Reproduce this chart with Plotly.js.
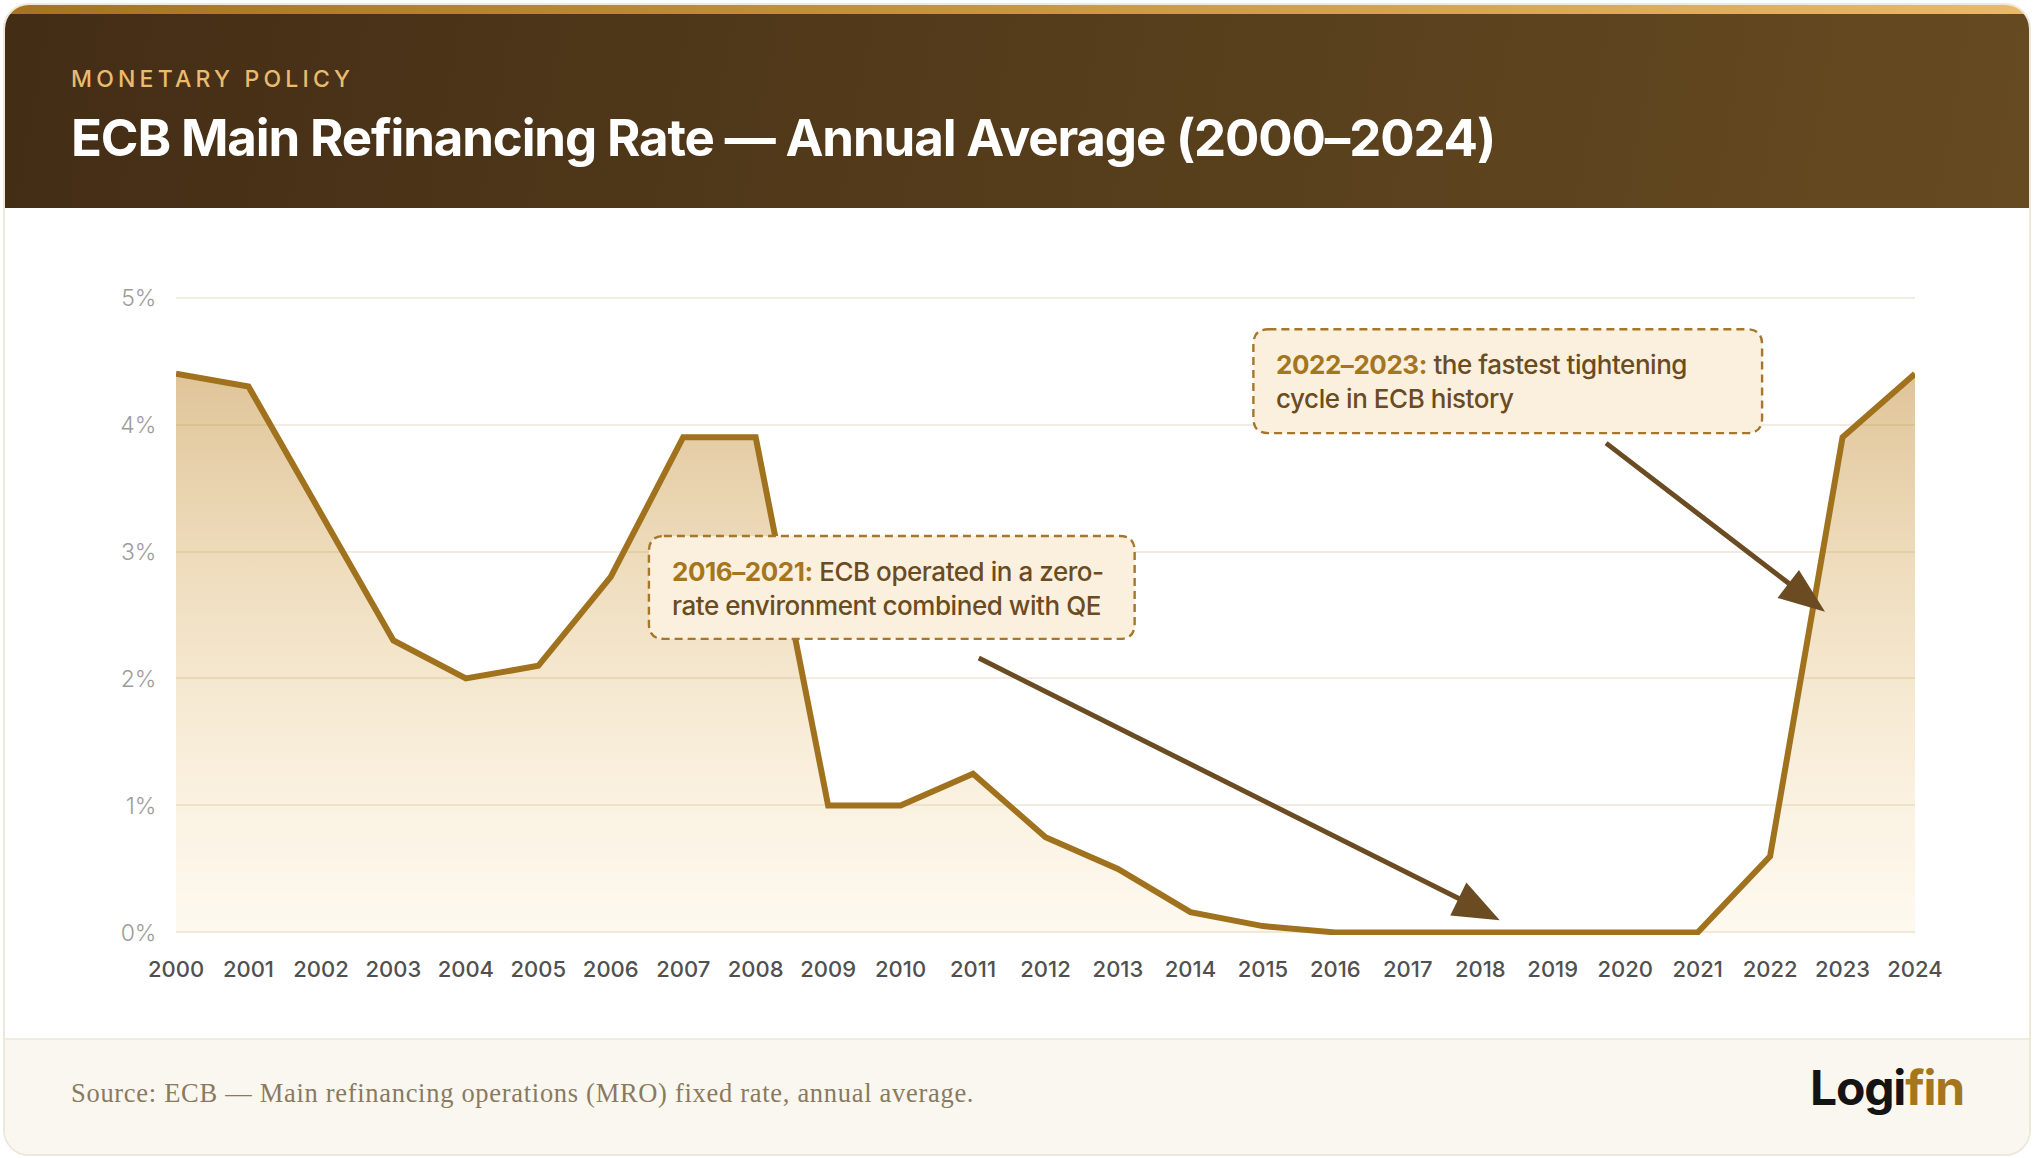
<!DOCTYPE html>
<html><head><meta charset="utf-8">
<script src="https://cdn.plot.ly/plotly-3.0.1.min.js"></script>
<style>
html,body{margin:0;padding:0;background:#fff;width:2033px;height:1158px;overflow:hidden}
#card{position:absolute;left:3px;top:3px;width:2024px;height:1149px;border:2px solid #eee8da;border-radius:26px;overflow:hidden;background:#fff}
#band{position:absolute;left:0;top:0;width:100%;height:9px;background:linear-gradient(90deg,#a5741f,#e9b96c)}
#head{position:absolute;left:0;top:9px;width:100%;height:194px;background:linear-gradient(100deg,#432d15,#664b21)}
#foot{position:absolute;left:0;top:1033px;width:100%;height:116px;background:#faf7f1;border-top:2px solid #f0ebe0;box-sizing:border-box}
#chart{position:absolute;left:0;top:0;width:2033px;height:1158px}
.annotation[data-index="0"] text{letter-spacing:4.2px}
.annotation[data-index="1"] text{letter-spacing:-1.15px}
.annotation[data-index="2"] text{letter-spacing:0.7px}
.annotation[data-index="3"] text,.annotation[data-index="4"] text{letter-spacing:-0.45px}
.annotation[data-index="5"] text{letter-spacing:-1.2px}
</style></head><body>
<div id="card"><div id="band"></div><div id="head"></div><div id="foot"></div></div>
<div id="chart"></div>
<script>
const years=[2000,2001,2002,2003,2004,2005,2006,2007,2008,2009,2010,2011,2012,2013,2014,2015,2016,2017,2018,2019,2020,2021,2022,2023,2024];
const rates=[4.4,4.3,3.3,2.3,2.0,2.1,2.8,3.9,3.9,1.0,1.0,1.25,0.75,0.5,0.16,0.05,0,0,0,0,0,0,0.6,3.9,4.4];
const yTicks=[0,1,2,3,4,5];
const yLabels=['0%','1%','2%','3%','4%','5%'];
const eyebrow='MONETARY POLICY';
const titleText='ECB Main Refinancing Rate — Annual Average (2000–2024)';
const sourceText='Source: ECB — Main refinancing operations (MRO) fixed rate, annual average.';

const W=2033,H=1158,L=175.5,R=1915.5,pad=0.02,unit=(932.9-297.2)/5,T=297.2-pad*unit,B=932.9+pad*unit;
const px=x=>(x-L)/(R-L), py=y=>(B-y)/(B-T);
function roundRect(x0,y0,x1,y1,r){
  return `M${px(x0+r)},${py(y0)}L${px(x1-r)},${py(y0)}Q${px(x1)},${py(y0)} ${px(x1)},${py(y0+r)}L${px(x1)},${py(y1-r)}Q${px(x1)},${py(y1)} ${px(x1-r)},${py(y1)}L${px(x0+r)},${py(y1)}Q${px(x0)},${py(y1)} ${px(x0)},${py(y1-r)}L${px(x0)},${py(y0+r)}Q${px(x0)},${py(y0)} ${px(x0+r)},${py(y0)}Z`;
}
const box=(x0,y0,x1,y1)=>({type:'path',xref:'paper',yref:'paper',layer:'above',path:roundRect(x0,y0,x1,y1,15),fillcolor:'#fbf0dd',line:{color:'#a6762a',width:2.4,dash:'8px,5px'}});
const head=(pts)=>({type:'path',xref:'paper',yref:'paper',layer:'above',fillcolor:'#6b4c22',line:{width:0},path:'M'+pts.map(p=>`${px(p[0])},${py(p[1])}`).join('L')+'Z'});
const label=(x,y,text,size,color,family,weight)=>({xref:'paper',yref:'paper',x:px(x),y:py(y),xanchor:'left',yanchor:'middle',align:'left',showarrow:false,text,font:{size,color,family,weight}});
const arrow=(x0,y0,x1,y1)=>({xref:'paper',yref:'paper',x:px(x1),y:py(y1),axref:'pixel',ayref:'pixel',ax:x0-x1,ay:y0-y1,text:'',showarrow:true,arrowhead:0,arrowwidth:5,arrowcolor:'#6b4c22',standoff:0,startstandoff:0});
const gold='#a6761e',ink='#6b4c22';
const layout={
  width:W,height:H,paper_bgcolor:'rgba(0,0,0,0)',plot_bgcolor:'rgba(0,0,0,0)',showlegend:false,
  margin:{l:L,r:W-R,t:T,b:H-B,pad:0},
  font:{family:'Inter'},
  xaxis:{range:[2000,2024],tickmode:'array',tickvals:years,ticktext:years.map(String),showgrid:false,zeroline:false,showline:false,
    ticks:'outside',ticklen:15,tickcolor:'rgba(0,0,0,0)',tickangle:0,tickfont:{size:22,color:'#505050',family:'Inter',weight:500}},
  yaxis:{range:[-pad,5+pad],tickmode:'array',tickvals:yTicks,ticktext:yLabels,showgrid:true,gridcolor:'#f1ecdf',gridwidth:2,zeroline:false,showline:false,
    ticks:'outside',ticklen:14,tickcolor:'rgba(0,0,0,0)',tickfont:{size:23,color:'#9c9c9c',family:'Inter',weight:300}},
  shapes:[box(648.7,536,1134.7,639),box(1253.5,329,1762.5,433),
    head([[1500,920.7],[1466.6,883],[1450.5,916]]),head([[1825.5,611.7],[1799.4,570],[1777.9,598]])],
  annotations:[
    label(68,78,eyebrow,23,'#e9bb6f','Inter',500),
    label(68,136.5,titleText,51,'#ffffff','Inter',700),
    label(68,1094,sourceText,26.5,'#8a7a60','Liberation Serif',400),
    label(669.5,589,`<b style="color:${gold}">2016–2021:</b> ECB operated in a zero-<br>rate environment combined with QE`,26,ink,'Inter',500),
    label(1274.5,381.5,`<b style="color:${gold}">2022–2023:</b> the fastest tightening<br>cycle in ECB history`,26,ink,'Inter',500),
    label(1808,1088,`<b><span style="color:#141414">Logi</span><span style="color:${gold}">fin</span></b>`,48,'#141414','Inter',700),
    arrow(977.5,657.7,1460,899.5),
    arrow(1605,442,1790,584)
  ]
};
const trace={x:years,y:rates,type:'scatter',mode:'lines',cliponaxis:false,hoverinfo:'skip',
  line:{color:'#a0721e',width:6,shape:'linear'},fill:'tozeroy',
  fillgradient:{type:'vertical',start:0,stop:4.4,colorscale:[[0,'rgba(240,195,100,0.1)'],[1,'rgba(180,115,10,0.42)']]}};
Plotly.newPlot('chart',[trace],layout,{displayModeBar:false,staticPlot:true});
</script></body></html>
